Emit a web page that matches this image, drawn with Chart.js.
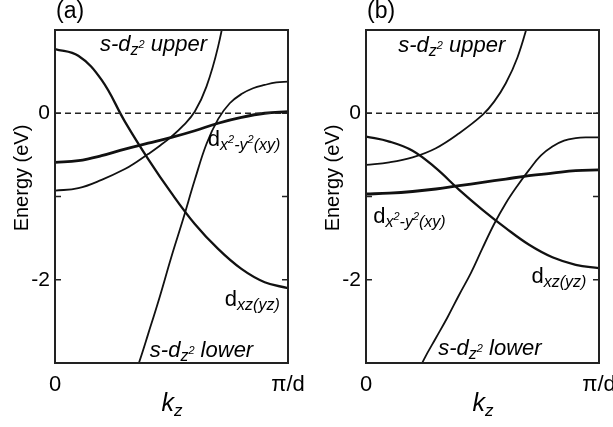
<!DOCTYPE html>
<html>
<head>
<meta charset="utf-8">
<script src="https://cdn.jsdelivr.net/npm/chart.js@4.4.1/dist/chart.umd.min.js"></script>
<style>
html, body { margin:0; padding:0; background:#fff; width:613px; height:427px; overflow:hidden; }
.panel { position:absolute; top:0; }
#boxA { left:0; }
#boxB { left:306px; }
</style>
</head>
<body>
<div class="panel" id="boxA"><canvas id="chartA" width="306" height="427" style="width:306px;height:427px"></canvas></div>
<div class="panel" id="boxB"><canvas id="chartB" width="307" height="427" style="width:307px;height:427px"></canvas></div>
<script>
// k_z in units of pi/d, energies in eV
const kGrid = [0, 0.1, 0.2, 0.3, 0.4, 0.5, 0.6, 0.7, 0.8, 0.9, 1.0];

// panel (a)
const kUpperA = [0, 0.1, 0.2, 0.3, 0.35, 0.4, 0.45, 0.5, 0.55, 0.6, 0.65, 0.7, 0.75];
const upperA  = [-0.93, -0.90, -0.80, -0.67, -0.585, -0.49, -0.39, -0.28, -0.15, 0.02, 0.32, 0.80, 1.5];
const dxzA    = [0.77, 0.69, 0.40, -0.10, -0.55, -0.96, -1.33, -1.63, -1.87, -2.03, -2.10];
const dxyA    = [-0.59, -0.57, -0.51, -0.43, -0.36, -0.29, -0.21, -0.12, -0.05, 0.0, 0.02];
const kLowerA = [0.32, 0.36, 0.4, 0.45, 0.5, 0.55, 0.6, 0.65, 0.7, 0.75, 0.8, 0.85, 0.9, 0.95, 1.0];
const lowerA  = [-3.3, -3.0, -2.65, -2.2, -1.72, -1.27, -0.8, -0.37, -0.07, 0.12, 0.23, 0.3, 0.34, 0.37, 0.38];

// panel (b)
const kUpperB = [0, 0.1, 0.2, 0.3, 0.4, 0.5, 0.55, 0.6, 0.65, 0.7];
const upperB  = [-0.62, -0.59, -0.53, -0.42, -0.24, -0.02, 0.14, 0.36, 0.67, 1.12];
const dxzB    = [-0.28, -0.34, -0.45, -0.66, -0.92, -1.16, -1.38, -1.58, -1.73, -1.82, -1.86];
const dxyB    = [-0.97, -0.96, -0.94, -0.91, -0.87, -0.83, -0.79, -0.75, -0.72, -0.69, -0.68];
const kLowerB = [0.2, 0.25, 0.3, 0.35, 0.4, 0.45, 0.5, 0.55, 0.6, 0.65, 0.7, 0.75, 0.8, 0.85, 0.9, 0.95, 1.0];
const lowerB  = [-3.25, -2.95, -2.7, -2.45, -2.18, -1.92, -1.62, -1.33, -1.08, -0.87, -0.68, -0.51, -0.4, -0.33, -0.3, -0.29, -0.29];

const fermi = [0, 0];
const fermiK = [0, 1];

const yTickValues = [-3, -2, -1, 0, 1];
const yTickShown = [0, -2];
const xTickLabels = ['0', 'π/d'];

const FONT = "'Liberation Sans', Arial, Helvetica, sans-serif";
Chart.defaults.font.family = FONT;
Chart.defaults.color = '#000';

function pts(ks, es) {
  return ks.map((k, i) => ({ x: k, y: es[i] }));
}

function curve(ks, es, width) {
  return {
    data: pts(ks, es),
    borderColor: '#111',
    borderWidth: width,
    pointRadius: 0,
    tension: 0.4,
    fill: false
  };
}

// draw a run of text pieces (sub/superscripts) starting at x, baseline y
function drawRich(ctx, parts, x, y) {
  let cx = x;
  parts.forEach(p => {
    ctx.font = (p.italic === false ? '' : 'italic ') + p.size + 'px ' + FONT;
    ctx.fillText(p.t, cx, y + (p.dy || 0));
    cx += ctx.measureText(p.t).width;
  });
}

const MAIN = 22, SUB = 16, SUP = 11;
const sdz2 = (rest) => [
  { t: 's-d', size: MAIN },
  { t: 'z', size: SUB, dy: 4 },
  { t: '2', size: SUP, dy: -3 },
  { t: rest, size: MAIN }
];
const dxy = [
  { t: 'd', size: MAIN, italic: false },
  { t: 'x', size: SUB, dy: 4 },
  { t: '2', size: SUP, dy: -3 },
  { t: '-y', size: SUB, dy: 4 },
  { t: '2', size: SUP, dy: -3 },
  { t: '(xy)', size: SUB, dy: 4 }
];
const dxz = [
  { t: 'd', size: MAIN, italic: false },
  { t: 'xz(yz)', size: SUB, dy: 4 }
];

const framePlugin = {
  id: 'frame',
  afterDatasetsDraw(chart, args, opts) {
    const { ctx, chartArea: a, scales: { x, y } } = chart;
    ctx.save();
    ctx.strokeStyle = '#222';
    ctx.lineWidth = 1.5;
    yTickValues.forEach(v => {
      const py = y.getPixelForValue(v);
      ctx.beginPath();
      ctx.moveTo(a.left, py); ctx.lineTo(a.left + 6, py);
      ctx.moveTo(a.right, py); ctx.lineTo(a.right - 6, py);
      ctx.stroke();
    });
    ctx.lineWidth = 2;
    ctx.strokeRect(a.left, a.top, a.right - a.left, a.bottom - a.top);

    ctx.fillStyle = '#000';
    ctx.textBaseline = 'alphabetic';
    ctx.textAlign = 'left';

    // panel letter
    ctx.font = '23px ' + FONT;
    ctx.fillText(opts.letter, a.left + 1, 18);

    // y title
    ctx.save();
    ctx.translate(a.left - 33, 178);
    ctx.rotate(-Math.PI / 2);
    ctx.textAlign = 'center';
    ctx.textBaseline = 'middle';
    ctx.font = '20px ' + FONT;
    ctx.fillText('Energy (eV)', 0, 0);
    ctx.restore();

    // x title k_z
    const kx = (a.left + a.right) / 2 - 10;
    drawRich(ctx, [{ t: 'k', size: 25 }, { t: 'z', size: 17, dy: 5 }], kx, 411);

    // band labels
    opts.labels.forEach(l => {
      drawRich(ctx, l.parts, x.getPixelForValue(l.k), y.getPixelForValue(l.e));
    });
    ctx.restore();
  }
};

function makeChart(id, sets, yAxisWidth, padRight, letter, labels) {
  return new Chart(document.getElementById(id), {
    type: 'line',
    data: {
      datasets: [
        Object.assign(curve(fermiK, fermi, 1.5), { borderDash: [6, 4], borderColor: '#222', tension: 0 }),
        curve(sets.kUp, sets.up, 1.8),
        curve(kGrid, sets.dxz, 2.3),
        curve(kGrid, sets.dxy, 2.8),
        curve(sets.kLo, sets.lo, 1.8)
      ]
    },
    options: {
      responsive: false,
      animation: false,
      layout: { padding: { top: 30, right: padRight, bottom: 0, left: 0 } },
      plugins: {
        legend: { display: false },
        tooltip: { enabled: false },
        frame: { letter: letter, labels: labels }
      },
      scales: {
        x: {
          type: 'linear',
          min: 0, max: 1,
          grid: { display: false, drawTicks: false },
          border: { display: false },
          ticks: {
            autoSkip: false, maxRotation: 0, padding: 9,
            font: { size: 22 },
            callback: v => v === 0 ? xTickLabels[0] : (v === 1 ? xTickLabels[1] : '')
          },
          afterBuildTicks: s => { s.ticks = [{ value: 0 }, { value: 1 }]; },
          afterFit: s => { s.height = 64; s.paddingLeft = 0; s.paddingRight = 0; }
        },
        y: {
          min: -3, max: 1,
          grid: { display: false, drawTicks: false },
          border: { display: false },
          ticks: {
            stepSize: 1, padding: 5,
            font: { size: 21 },
            callback: v => yTickShown.includes(v) ? String(v) : ''
          },
          afterFit: s => { s.width = yAxisWidth; s.paddingTop = 0; s.paddingBottom = 0; }
        }
      }
    },
    plugins: [framePlugin]
  });
}

makeChart('chartA',
  { kUp: kUpperA, up: upperA, dxz: dxzA, dxy: dxyA, kLo: kLowerA, lo: lowerA },
  55, 18, '(a)',
  [
    { parts: sdz2(' upper'), k: 0.193, e: 0.75 },
    { parts: dxy, k: 0.656, e: -0.39 },
    { parts: dxz, k: 0.729, e: -2.32 },
    { parts: sdz2(' lower'), k: 0.407, e: -2.93 }
  ]);

makeChart('chartB',
  { kUp: kUpperB, up: upperB, dxz: dxzB, dxy: dxyB, kLo: kLowerB, lo: lowerB },
  60, 14, '(b)',
  [
    { parts: sdz2(' upper'), k: 0.138, e: 0.74 },
    { parts: dxy, k: 0.031, e: -1.32 },
    { parts: dxz, k: 0.71, e: -2.04 },
    { parts: sdz2(' lower'), k: 0.31, e: -2.9 }
  ]);
</script>
</body>
</html>
